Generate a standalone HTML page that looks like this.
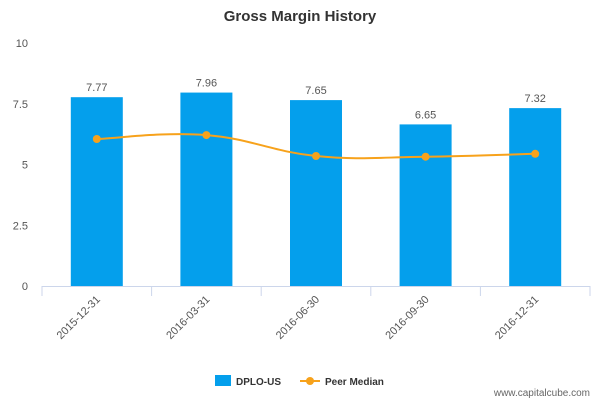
<!DOCTYPE html>
<html><head><meta charset="utf-8"><style>
body{margin:0;background:#fff;}
svg{font-family:"Liberation Sans",Arial,sans-serif;display:block}
</style></head><body>
<svg id="chart" width="600" height="400" viewBox="0 0 600 400" xmlns="http://www.w3.org/2000/svg">
<text x="300" y="21" text-anchor="middle" font-size="15" font-weight="bold" fill="#333">Gross Margin History</text>
<g id="grid"></g>
<g id="bars"></g>
<g id="line"></g>
<g id="xaxis"></g>
<g>
<rect x="215" y="375" width="16" height="11" fill="#049fec"/>
<text x="236" y="385" font-size="10" font-weight="bold" fill="#333">DPLO-US</text>
<line x1="300" y1="381" x2="320" y2="381" stroke="#f7a21b" stroke-width="2"/>
<circle cx="310" cy="381" r="4" fill="#f7a21b"/>
<text x="325" y="385" font-size="10" font-weight="bold" fill="#333">Peer Median</text>
</g>
<text x="590" y="396" text-anchor="end" font-size="10" fill="#666">www.capitalcube.com</text>
</svg>
<script>
const categories=["2015-12-31","2016-03-31","2016-06-30","2016-09-30","2016-12-31"];
const dploValues=[7.77,7.96,7.65,6.65,7.32];
const peerValues=[6.05,6.21,5.35,5.32,5.44];
const yTicks=[0,2.5,5,7.5,10];
const yTickLabels=["0","2.5","5","7.5","10"];
const NS="http://www.w3.org/2000/svg";
const X0=42,X1=590,Y0=286,Y1=43,YMAX=10;
const band=(X1-X0)/categories.length;
function xc(i){return X0+band*(i+0.5);}
function y(v){return Y0-(v/YMAX)*(Y0-Y1);}
function mk(tag,attrs,parent){const e=document.createElementNS(NS,tag);for(const k in attrs)e.setAttribute(k,attrs[k]);parent.appendChild(e);return e;}
const grid=document.getElementById('grid');
yTicks.forEach((t,i)=>{
 const tx=mk('text',{x:28,y:y(t)+4,'text-anchor':'end','font-size':11,fill:'#555'},grid);
 
 
 tx.textContent=yTickLabels[i];
});
const bars=document.getElementById('bars');
dploValues.forEach((v,i)=>{
 const r=mk('rect',{x:xc(i)-26,y:y(v),width:52,height:Y0-y(v),fill:'#049fec'},bars);
 
 
 const t=mk('text',{x:xc(i),y:y(v)-6,'text-anchor':'middle','font-size':11,fill:'#555'},bars);
 
 
 t.textContent=v.toFixed(2);
});
const lg=document.getElementById('line');
const pts=peerValues.map((v,i)=>[xc(i),y(v)]);
let d='M'+pts[0][0]+','+pts[0][1];
for(let i=0;i<pts.length-1;i++){
 const p0=pts[Math.max(i-1,0)],p1=pts[i],p2=pts[i+1],p3=pts[Math.min(i+2,pts.length-1)];
 const t=0.2;
 const c1=[p1[0]+(p2[0]-p0[0])*t,p1[1]+(p2[1]-p0[1])*t];
 const c2=[p2[0]-(p3[0]-p1[0])*t,p2[1]-(p3[1]-p1[1])*t];
 d+=' C'+c1+' '+c2+' '+p2;
}
const path=mk('path',{d:d,fill:'none',stroke:'#f7a21b','stroke-width':2},lg);


pts.forEach((p,i)=>{
 const c=mk('circle',{cx:p[0],cy:p[1],r:4,fill:'#f7a21b'},lg);
 
 
});
const xa=document.getElementById('xaxis');
const al=mk('line',{x1:X0,y1:Y0+0.5,x2:X1,y2:Y0+0.5,stroke:'#ccd6eb'},xa);


for(let i=0;i<=categories.length;i++){
 const tk=mk('line',{x1:X0+band*i,y1:Y0,x2:X0+band*i,y2:Y0+10,stroke:'#ccd6eb'},xa);
 
 
}
categories.forEach((c,i)=>{
 const px=xc(i)+4,py=Y0+14;
 const t=mk('text',{x:px,y:py,'text-anchor':'end','font-size':11,fill:'#555',transform:'rotate(-45 '+px+' '+py+')'},xa);
 
 
 t.textContent=c;
});
</script>
</body></html>
